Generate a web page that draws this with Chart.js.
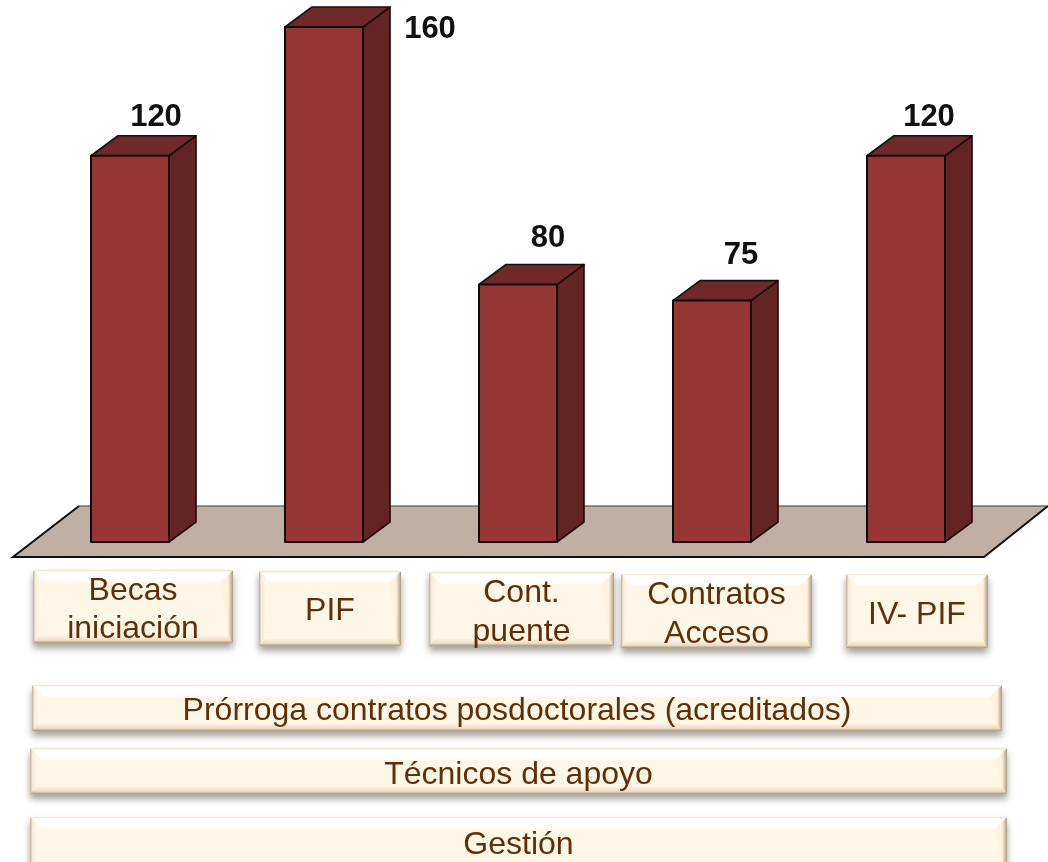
<!DOCTYPE html>
<html>
<head>
<meta charset="utf-8">
<style>html,body{margin:0;padding:0;background:#fff;overflow:hidden}#w{position:absolute;left:0;top:0;width:1048px;height:862px}</style>
<script src="https://cdn.jsdelivr.net/npm/chart.js@4/dist/chart.umd.min.js"></script>
</head>
<body>
<div id="w"><canvas id="c" width="1048" height="862"></canvas></div>
<script>
const categories = ['Becas iniciación','PIF','Cont. puente','Contratos Acceso','IV- PIF'];
const values = [120,160,80,75,120];
const extraRows = ['Prórroga contratos posdoctorales (acreditados)','Técnicos de apoyo','Gestión'];

const font = '"Liberation Sans", Arial, sans-serif';
const valueOffsets = [[26,-38],[106,2],[30,-46],[29,-45],[23,-38]];
const boxes = [
 {x:33,y:570,w:200,h:73,lines:['Becas','iniciación'],ty:[591,629]},
 {x:259,y:571,w:142,h:75,lines:['PIF'],ty:[611],cx:330},
 {x:429,y:572,w:185,h:74,lines:['Cont.','puente'],ty:[593,632]},
 {x:621,y:574,w:191,h:74,lines:['Contratos','Acceso'],ty:[595,634]},
 {x:846,y:574,w:142,h:74,lines:['IV- PIF'],ty:[615]},
 {x:32,y:685,w:970,h:46,lines:[extraRows[0]],ty:[711]},
 {x:30,y:748,w:977,h:46,lines:[extraRows[1]],ty:[775]},
 {x:30,y:817,w:977,h:60,lines:[extraRows[2]],ty:[845]}
];
function poly(ctx,p,fill,stroke,lw){
  ctx.beginPath();p.forEach((q,i)=>i?ctx.lineTo(q[0],q[1]):ctx.moveTo(q[0],q[1]));ctx.closePath();
  if(fill){ctx.fillStyle=fill;ctx.fill();}
  if(stroke){ctx.strokeStyle=stroke;ctx.lineWidth=lw;ctx.lineJoin='round';ctx.stroke();}
}
function drawBox(ctx,b){
  const {x,y,w,h}=b, s=12;
  ctx.save();
  ctx.shadowColor='rgba(70,60,50,0.5)';ctx.shadowBlur=7;ctx.shadowOffsetY=5;
  ctx.fillStyle='#fff7e6';ctx.fillRect(x,y,w,h);
  ctx.restore();
  const t=y+12, bt=y+h-7;
  let g=ctx.createLinearGradient(0,y,0,t);g.addColorStop(0,'#fbf0dc');g.addColorStop(.25,'#ffffff');g.addColorStop(.7,'#ffffff');g.addColorStop(1,'#fffaf0');
  poly(ctx,[[x,y],[x+w,y],[x+w-s,t],[x+s,t]],g);
  g=ctx.createLinearGradient(0,bt,0,y+h);g.addColorStop(0,'#fbf1de');g.addColorStop(.6,'#ecdfc8');g.addColorStop(1,'#a8977f');
  poly(ctx,[[x,y+h],[x+w,y+h],[x+w-5,bt],[x+5,bt]],g);
  g=ctx.createLinearGradient(x,0,x+s,0);g.addColorStop(0,'#bfae95');g.addColorStop(.2,'#f7ecd8');g.addColorStop(.6,'#fff9ec');g.addColorStop(1,'#fff7e6');
  poly(ctx,[[x,y],[x+s,t],[x+5,bt],[x,y+h]],g);
  g=ctx.createLinearGradient(x+w-5,0,x+w,0);g.addColorStop(0,'#fff3dd');g.addColorStop(1,'#ab9a82');
  poly(ctx,[[x+w,y],[x+w-s,t],[x+w-5,bt],[x+w,y+h]],g);
  ctx.strokeStyle='#f3e7d0';ctx.lineWidth=1;
  ctx.beginPath();ctx.moveTo(x,y+.5);ctx.lineTo(x+w,y+.5);ctx.stroke();
  ctx.fillStyle='#5f2f0b';ctx.font='32px '+font;ctx.textAlign='center';ctx.textBaseline='middle';
  b.lines.forEach((l,i)=>ctx.fillText(l,x+w/2,b.ty[i]));
}
const art = {
  id:'art',
  beforeDatasetsDraw(chart){
    const ctx=chart.ctx;
    poly(ctx,[[79,506],[1048,506],[984,557],[13,557]],'#bfb0a3');
    ctx.save();ctx.strokeStyle='#3a3a3a';ctx.lineWidth=1.2;
    ctx.beginPath();ctx.moveTo(79,506);ctx.lineTo(1048,506);ctx.stroke();
    ctx.strokeStyle='#111';ctx.lineWidth=2;
    ctx.beginPath();ctx.moveTo(79,506);ctx.lineTo(13,557);ctx.lineTo(984,557);ctx.lineTo(1048,506);ctx.stroke();
    ctx.restore();
    const dx=27,dy=-20;
    chart.getDatasetMeta(0).data.forEach(el=>{
      const L=el.x-el.width/2,R=el.x+el.width/2,T=el.y,B=el.base;
      poly(ctx,[[R,T],[R+dx,T+dy],[R+dx,B+dy],[R,B]],'#632523','#1c0c0c',1.6);
      poly(ctx,[[L,T],[L+dx,T+dy],[R+dx,T+dy],[R,T]],'#6f2928','#1c0c0c',1.6);
    });
  },
  afterDatasetsDraw(chart){
    const ctx=chart.ctx;
    chart.getDatasetMeta(0).data.forEach((el,i)=>{
      const L=el.x-el.width/2;
      ctx.strokeStyle='#140808';ctx.lineWidth=2;ctx.strokeRect(L,el.y,el.width,el.base-el.y);
      ctx.fillStyle='#111';ctx.font='bold 31px '+font;ctx.textAlign='center';ctx.textBaseline='middle';
      ctx.fillText(String(values[i]),el.x+valueOffsets[i][0],el.y+valueOffsets[i][1]);
    });
    boxes.forEach(b=>drawBox(ctx,b));
  }
};
new Chart(document.getElementById('c'),{
  type:'bar',
  data:{labels:categories,datasets:[{data:values,backgroundColor:'#943634',borderWidth:0,barPercentage:78/194,categoryPercentage:1}]},
  options:{
    responsive:false,animation:false,
    layout:{padding:{left:33,right:45,top:27,bottom:320}},
    plugins:{legend:{display:false},tooltip:{enabled:false}},
    scales:{x:{display:false},y:{display:false,min:0,max:160}}
  },
  plugins:[art]
});
</script>
</body>
</html>
